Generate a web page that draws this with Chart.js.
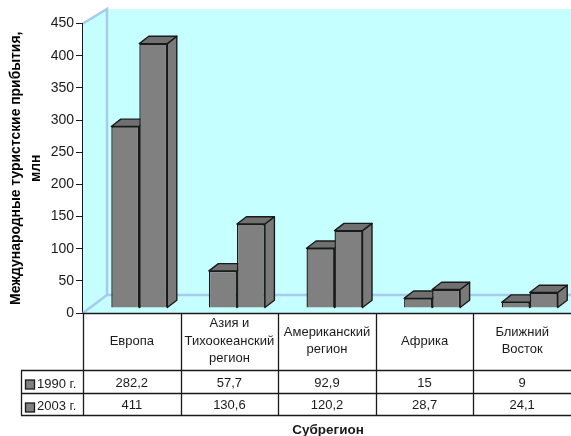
<!DOCTYPE html>
<html>
<head>
<meta charset="utf-8">
<title>Международные туристские прибытия</title>
<script src="https://cdn.jsdelivr.net/npm/chart.js@4"></script>
<style>
    html, body { margin: 0; padding: 0; background: #fff; }
    #wrap { width: 571px; height: 436px; }
</style>
</head>
<body>
<div id="wrap"><canvas id="chart"></canvas></div>
<script>
// Chart data
const categories = [['Европа'], ['Азия и', 'Тихоокеанский', 'регион'], ['Американский', 'регион'], ['Африка'], ['Ближний', 'Восток']];
const seriesNames = ['1990 г.', '2003 г.'];
const values1990 = [282.2, 57.7, 92.9, 15, 9];
const values2003 = [411, 130.6, 120.2, 28.7, 24.1];

const yTitle = ['Международные туристские прибытия,', 'млн'];
const xTitle = 'Субрегион';

const FONT = '"Liberation Sans", Arial, sans-serif';
const WALL = '#c6ffff';
const WALL_LINE = '#a6caf0';
const BAR = '#808080';
const INK = '#1a1a1a';

// Depth of the fake 3D box
const floorDx = 24, floorDy = 18;
const barShiftX = 7.5, barShiftY = 5;
const depthX = 9.5, depthY = 7.3;

function fmt(v) {
    return String(v).replace('.', ',');
}

// Walls behind the bars
const wallsPlugin = {
    id: 'walls',
    beforeDatasetsDraw(chart) {
        const { ctx, chartArea: a } = chart;
        const backX = a.left + floorDx;
        const backY = a.bottom - floorDy;
        const topY = 9;

        ctx.save();
        ctx.fillStyle = WALL;
        ctx.beginPath();
        ctx.moveTo(a.left, a.bottom);
        ctx.lineTo(a.left, a.top);
        ctx.lineTo(backX, topY);
        ctx.lineTo(a.right, topY);
        ctx.lineTo(a.right, a.bottom);
        ctx.closePath();
        ctx.fill();

        ctx.strokeStyle = WALL_LINE;
        ctx.lineWidth = 2.5;
        ctx.beginPath();
        ctx.moveTo(a.left, a.top);
        ctx.lineTo(backX, topY);
        ctx.lineTo(backX, backY);
        ctx.lineTo(a.right, backY);
        ctx.moveTo(backX, backY);
        ctx.lineTo(a.left, a.bottom);
        ctx.stroke();
        ctx.restore();
    }
};

// Bars sit a little inside the box, and get top and side faces
const boxPlugin = {
    id: 'box',
    beforeDatasetsDraw(chart) {
        const ctx = chart.ctx;
        ctx.save();
        ctx.translate(barShiftX, -barShiftY);
        ctx.strokeStyle = INK;
        ctx.lineWidth = 1.4;
        ctx.lineJoin = 'round';
        chart.data.datasets.forEach((ds, i) => {
            chart.getDatasetMeta(i).data.forEach(bar => {
                const l = bar.x - bar.width / 2;
                const r = bar.x + bar.width / 2;
                const t = bar.y;
                const b = bar.base;

                ctx.fillStyle = '#7a7a7a';
                ctx.beginPath();
                ctx.moveTo(r, t);
                ctx.lineTo(r + depthX, t - depthY);
                ctx.lineTo(r + depthX, b - depthY);
                ctx.lineTo(r, b);
                ctx.closePath();
                ctx.fill();
                ctx.stroke();

                ctx.fillStyle = '#707070';
                ctx.beginPath();
                ctx.moveTo(l, t);
                ctx.lineTo(l + depthX, t - depthY);
                ctx.lineTo(r + depthX, t - depthY);
                ctx.lineTo(r, t);
                ctx.closePath();
                ctx.fill();
                ctx.stroke();
            });
        });
        ctx.restore();
        // left open for the library's bars, closed in afterDatasetsDraw
        ctx.save();
        ctx.translate(barShiftX, -barShiftY);
    },
    afterDatasetsDraw(chart) {
        chart.ctx.restore();
    }
};

// Data table under the axis
const tablePlugin = {
    id: 'table',
    afterDraw(chart) {
        const { ctx, chartArea: a, scales } = chart;
        const x = scales.x;
        const rows = [370.5, 393.5, 415.5];
        const legendLeft = 21;
        const step = (a.right - a.left) / categories.length;

        ctx.save();
        ctx.strokeStyle = INK;
        ctx.lineWidth = 1.3;
        ctx.beginPath();
        ctx.moveTo(a.left, a.bottom + 0.5);
        ctx.lineTo(a.right, a.bottom + 0.5);
        rows.forEach(y => {
            ctx.moveTo(legendLeft, y);
            ctx.lineTo(a.right, y);
        });
        ctx.moveTo(legendLeft + 0.5, rows[0]);
        ctx.lineTo(legendLeft + 0.5, rows[2]);
        ctx.moveTo(a.left + 0.5, a.bottom);
        ctx.lineTo(a.left + 0.5, rows[2]);
        categories.forEach((c, i) => {
            if (i === 0) return;
            const cx = Math.round(a.left + step * i) + 0.5;
            ctx.moveTo(cx, a.bottom);
            ctx.lineTo(cx, rows[2]);
        });
        ctx.stroke();

        ctx.fillStyle = INK;
        ctx.font = '13px ' + FONT;
        ctx.textAlign = 'center';
        ctx.textBaseline = 'middle';

        const lineH = 17.3;
        categories.forEach((lines, i) => {
            const cx = x.getPixelForTick(i);
            const first = 341 - (lines.length - 1) * lineH / 2;
            lines.forEach((line, j) => ctx.fillText(line, cx, first + j * lineH));
        });

        const seriesValues = [values1990, values2003];
        const rowY = [383, 405];
        seriesValues.forEach((vals, r) => {
            vals.forEach((v, i) => ctx.fillText(fmt(v), x.getPixelForTick(i), rowY[r]));
        });

        // legend keys live in the first table column
        ctx.textAlign = 'left';
        seriesNames.forEach((name, r) => {
            const boxY = rowY[r] - 3 + r * 1;
            ctx.fillStyle = BAR;
            ctx.fillRect(25.5, boxY, 9, 9);
            ctx.strokeRect(25.5, boxY, 9, 9);
            ctx.fillStyle = INK;
            ctx.fillText(name, 37, rowY[r] + 1);
        });

        ctx.font = 'bold 13.5px ' + FONT;
        ctx.textAlign = 'center';
        ctx.fillText(xTitle, 328, 430);
        ctx.restore();
    }
};

new Chart(document.getElementById('chart'), {
    type: 'bar',
    data: {
        labels: categories,
        datasets: [
            { label: seriesNames[0], data: values1990, backgroundColor: BAR, borderColor: INK, borderWidth: 1.4 },
            { label: seriesNames[1], data: values2003, backgroundColor: BAR, borderColor: INK, borderWidth: 1.4 }
        ]
    },
    options: {
        responsive: true,
        maintainAspectRatio: false,
        animation: false,
        layout: { padding: { top: 23.5, right: 0, bottom: 123, left: 6 } },
        categoryPercentage: 0.574,
        barPercentage: 1,
        plugins: {
            legend: { display: false },
            tooltip: { enabled: false }
        },
        scales: {
            x: {
                ticks: { display: false },
                grid: { display: false },
                border: { display: false },
                afterFit(scale) { scale.height = 0; }
            },
            y: {
                min: 0,
                max: 450,
                ticks: {
                    stepSize: 50,
                    color: INK,
                    padding: 2,
                    font: { family: FONT, size: 14 }
                },
                grid: { drawOnChartArea: false, color: INK, tickLength: 7 },
                border: { color: INK, width: 1.4 },
                title: {
                    display: true,
                    text: yTitle,
                    color: '#000',
                    padding: { top: 0, bottom: 0 },
                    font: { family: FONT, size: 13.9, weight: 'bold', lineHeight: 1.44 }
                },
                afterFit(scale) { scale.width = 77; }
            }
        }
    },
    plugins: [wallsPlugin, boxPlugin, tablePlugin]
});
</script>
</body>
</html>
